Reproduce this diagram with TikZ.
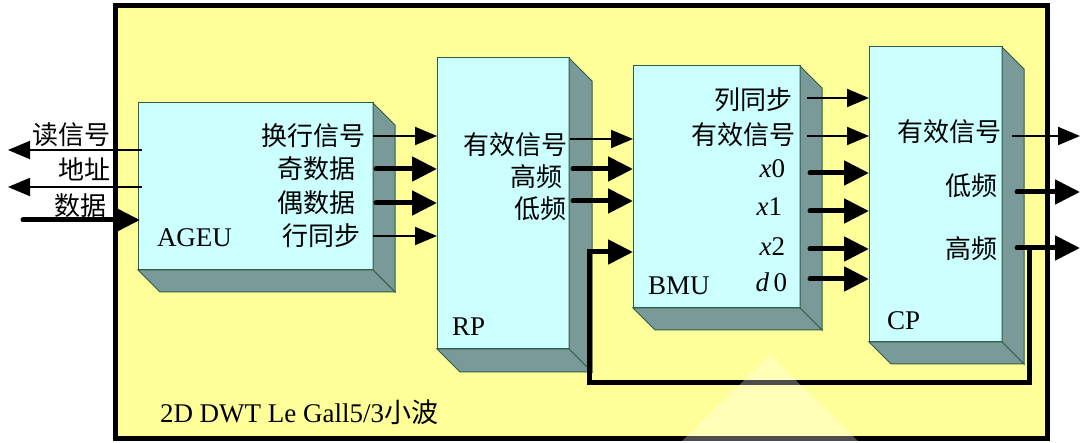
\documentclass[tikz,border=0pt]{standalone}
\usepackage{fontspec}
\setmainfont{Liberation Serif}
\newfontfamily\cjk{Noto Sans CJK SC}
\usetikzlibrary{arrows.meta,calc}
\definecolor{bgyellow}{HTML}{FFFF99}
\definecolor{facecyan}{HTML}{CCFFFF}
\definecolor{sidegray}{HTML}{7A9999}
\definecolor{edgegreen}{HTML}{2E5E45}
\tikzset{
  blk/.style={draw=edgegreen, line width=1pt, fill=facecyan, anchor=north west, inner sep=0pt, outer sep=0pt},
  sideface/.style={draw=edgegreen, line width=1pt, fill=sidegray, line join=miter},
  thinarr/.style={line width=2pt, -{Triangle[length=22pt,width=18pt]}},
  thickarr/.style={line width=5pt, line join=miter, -{Triangle[length=25pt,width=24pt]}},
  lab/.style={inner sep=0pt, outer sep=0pt, anchor=east, font=\cjk\fontsize{26}{29}\selectfont},
  latin/.style={inner sep=0pt, outer sep=0pt, font=\fontsize{27}{30}\selectfont},
}
\newcommand\drawdepth[2]{%
  \draw[sideface] (#1.north east) -- ++(#2,#2) -- ($(#1.south east)+(#2,#2)$) -- (#1.south east) -- cycle;
  \draw[sideface] (#1.south west) -- ++(#2,#2) -- ($(#1.south east)+(#2,#2)$) -- (#1.south east) -- cycle;
}
\begin{document}
\begin{tikzpicture}[x=1pt,y=-1pt]
\useasboundingbox (0,0) rectangle (1080,443);
% frame
\node[draw=black, line width=5pt, fill=bgyellow, anchor=north west, inner sep=0pt, outer sep=0pt,
      minimum width=932pt, minimum height=433pt] (frame) at (115,6) {};
% boxes
\node[blk, minimum width=235pt, minimum height=167pt] (ageu) at (138,103) {};
\drawdepth{ageu}{22}
\node[blk, minimum width=132pt, minimum height=291pt] (rp) at (437,58) {};
\drawdepth{rp}{23}
\node[blk, minimum width=167pt, minimum height=242pt] (bmu) at (633,66) {};
\drawdepth{bmu}{22}
\node[blk, minimum width=133pt, minimum height=295pt] (cp) at (869,47) {};
\drawdepth{cp}{22}

% row coordinates
\coordinate (yRead) at (0,150);
\coordinate (yAddr) at (0,187);
\coordinate (yData) at (0,220);
\coordinate (outRead) at (8,150);
\coordinate (outAddr) at (8,187);
\coordinate (inData) at (23,220);
\coordinate (a1) at (0,136);
\coordinate (a2) at (0,169);
\coordinate (a3) at (0,203);
\coordinate (a4) at (0,236);
\coordinate (r1) at (0,139);
\coordinate (r2) at (0,169);
\coordinate (r3) at (0,201);
\coordinate (b1) at (0,98);
\coordinate (b2) at (0,136);
\coordinate (b3) at (0,173);
\coordinate (b4) at (0,211);
\coordinate (b5) at (0,249);
\coordinate (b6) at (0,279);
\coordinate (outC1) at (1080,136);
\coordinate (outC2) at (1080,192);
\coordinate (outC3) at (1080,248);
\coordinate (fbTop) at (1029,248);
\coordinate (fbBot) at (1029,383);
\coordinate (fbLeft) at (589,383);
\coordinate (yX2in) at (0,252);

% left side
\draw[thinarr] ($(ageu.west |- yRead)+(4,0)$) -- (outRead);
\draw[thinarr] ($(ageu.west |- yAddr)+(4,0)$) -- (outAddr);
\draw[thickarr, line cap=round] (inData) -- ($(ageu.west |- yData)+(2,0)$);
% AGEU -> RP
\draw[thinarr] (ageu.east |- a1) -- (rp.west |- a1);
\draw[thickarr, line cap=round] ($(ageu.east |- a2)+(3,0)$) -- (rp.west |- a2);
\draw[thickarr, line cap=round] ($(ageu.east |- a3)+(3,0)$) -- (rp.west |- a3);
\draw[thinarr] (ageu.east |- a4) -- (rp.west |- a4);
% RP -> BMU
\draw[thinarr] ($(rp.east |- r1)+(1,0)$) -- (bmu.west |- r1);
\draw[thickarr, line cap=round] ($(rp.east |- r2)+(4,0)$) -- (bmu.west |- r2);
\draw[thickarr, line cap=round] ($(rp.east |- r3)+(4,0)$) -- (bmu.west |- r3);
% BMU -> CP
\draw[thinarr] ($(bmu.east |- b1)+(7,0)$) -- (cp.west |- b1);
\draw[thinarr] ($(bmu.east |- b2)+(7,0)$) -- (cp.west |- b2);
\draw[thickarr, line cap=round] ($(bmu.east |- b3)+(10,0)$) -- (cp.west |- b3);
\draw[thickarr, line cap=round] ($(bmu.east |- b4)+(10,0)$) -- (cp.west |- b4);
\draw[thickarr, line cap=round] ($(bmu.east |- b5)+(10,0)$) -- (cp.west |- b5);
\draw[thickarr, line cap=round] ($(bmu.east |- b6)+(10,0)$) -- (cp.west |- b6);
% CP outputs
\draw[thinarr] ($(cp.east |- outC1)+(10,0)$) -- (outC1);
\draw[thickarr, line cap=round] ($(cp.east |- outC2)+(15,0)$) -- (outC2);
\draw[thickarr, line cap=round] ($(cp.east |- outC3)+(15,0)$) -- (outC3);
% feedback
\draw[thickarr] (fbTop) -- (fbBot) -- (fbLeft) -- (fbLeft |- yX2in) -- (bmu.west |- yX2in);

% labels left
\node[lab] (tRead) at (110,135) {读信号};
\node[lab] (tAddr) at (110,169) {地址};
\node[lab] (tData) at (106,206) {数据};
% AGEU labels
\node[lab] (tA1) at (365,136) {换行信号};
\node[lab] (tA2) at (355,169) {奇数据};
\node[lab] (tA3) at (355,203) {偶数据};
\node[lab] (tA4) at (360,236) {行同步};
\node[latin, anchor=west] (tAGEU) at (157,238) {AGEU};
% RP labels
\node[lab] (tR1) at (567,145) {有效信号};
\node[lab] (tR2) at (562,177) {高频};
\node[lab] (tR3) at (566,209) {低频};
\node[latin, anchor=west] (tRP) at (452,327) {RP};
% BMU labels
\node[lab] (tB1) at (792,100) {列同步};
\node[lab] (tB2) at (795,135) {有效信号};
\node[latin, anchor=east] (tB3) at (785,169) {{\itshape x}0};
\node[latin, anchor=east] (tB4) at (782,207) {{\itshape x}1};
\node[latin, anchor=east] (tB5) at (785,247) {{\itshape x}2};
\node[latin, anchor=east] (tB6) at (787,282) {{\itshape d}\,0};
\node[latin, anchor=west] (tBMU) at (648,286) {BMU};
% CP labels
\node[lab] (tC1) at (1001,132) {有效信号};
\node[lab] (tC2) at (997,186) {低频};
\node[lab] (tC3) at (997,249) {高频};
\node[latin, anchor=west] (tCP) at (887,321) {CP};
% caption
\node[latin, anchor=west, font=\fontsize{27}{30}\selectfont] (tTitle) at (160,412) {2D DWT Le Gall5/3{\cjk 小波}};

% faint light triangle
\fill[white, opacity=0.3] (770,355) -- (860,443) -- (680,443) -- cycle;
\end{tikzpicture}
\end{document}
